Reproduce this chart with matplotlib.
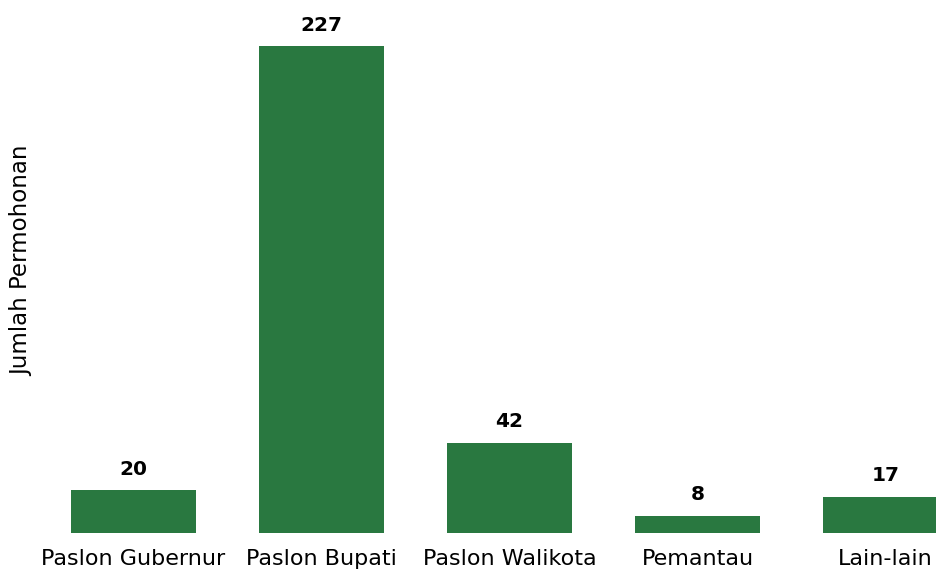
import matplotlib
matplotlib.use("Agg")
import matplotlib.pyplot as plt

categories = ["Paslon Gubernur", "Paslon Bupati", "Paslon Walikota", "Pemantau", "Lain-lain"]
values = [20, 227, 42, 8, 17]

bar_color = "#297840"

fig = plt.figure(figsize=(9.37, 5.71), dpi=100)
# axes spans the whole width so the last bar runs off the right edge
ax = fig.add_axes([0, 38 / 571, 1, 533 / 571])

x = list(range(len(categories)))
ax.bar(x, values, width=0.665, color=bar_color)

for xi, v in zip(x, values):
    ax.annotate(str(v), (xi, v), xytext=(0, 11.2), textcoords="offset points",
                ha="center", va="baseline", fontsize=14.5, fontweight="bold")

ax.set_xlim(-0.71, 4.274)
ax.set_ylim(0, 248.5)
ax.set_xticks(x)
ax.set_xticklabels(categories, fontsize=16)
ax.tick_params(axis="x", length=0, pad=11.5)
ax.set_yticks([])
for s in ax.spines.values():
    s.set_visible(False)

fig.text(22 / 937, 1 - 261 / 571, "Jumlah Permohonan", rotation=90,
         ha="center", va="center", fontsize=16.5)

fig.savefig("out.png", dpi=100)
